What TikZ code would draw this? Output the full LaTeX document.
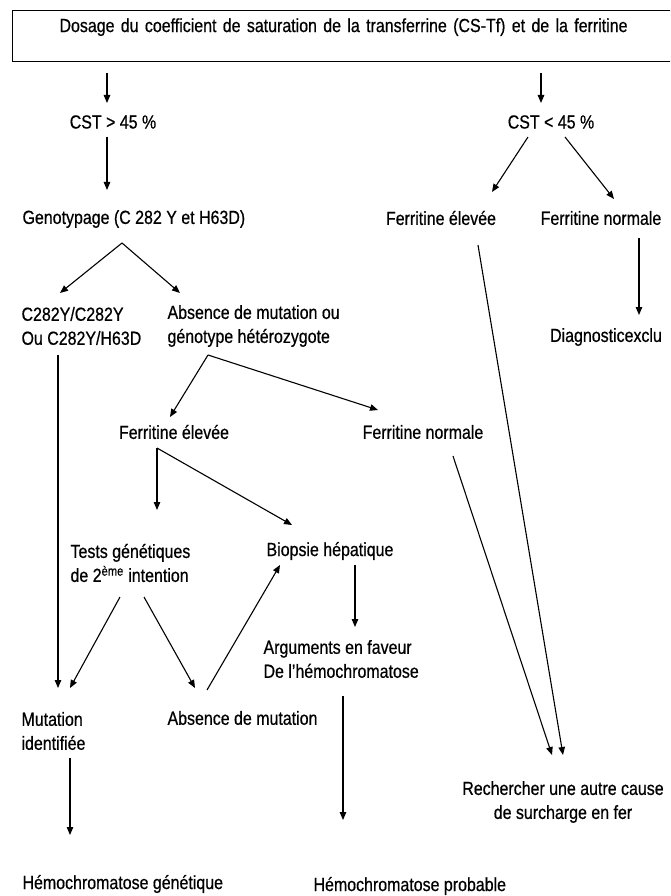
\documentclass[tikz,border=0pt]{standalone}
\usepackage{fontspec}
\setmainfont[FakeStretch=0.84,FakeBold=0.6]{Liberation Sans}
\usetikzlibrary{arrows.meta,calc}

\begin{document}
\begin{tikzpicture}[x=1pt,y=-1pt,>={Triangle[length=8pt,width=6.5pt]},line width=1.1pt,
	every node/.style={inner sep=0pt,font=\fontsize{19}{24}\selectfont}]
	\useasboundingbox (0,0) rectangle (670,896);
	\clip (0,0) rectangle (670,896);
	% top box
	\node[draw,anchor=north west,text width=662pt,align=center,
		text height=21.5pt,text depth=29.5pt] (dosage) at (12,10)
		{Dosage du coefficient de saturation de la transferrine (CS-Tf) et de la ferritine};
	\node (cstA) at (113,122) {CST > 45 \%};
	\node (cstB) at (551,122) {CST < 45 \%};
	\node[anchor=west] (geno) at (22,219) {Genotypage (C 282 Y et H63D)};
	\node (ferB1) at (441,218) {Ferritine élevée};
	\node (ferB2) at (601,218) {Ferritine normale};
	\node (diag) at (606,337) {Diagnosticexclu};
	\node[anchor=west,align=left] (homo) at (21,326) {C282Y/C282Y\\Ou C282Y/H63D};
	\node[anchor=west,align=left] (absA) at (167,326) {Absence de mutation ou\\génotype hétérozygote};
	\node (ferA1) at (174,432) {Ferritine élevée};
	\node (ferA2) at (423,432) {Ferritine normale};
	\node[anchor=west,align=left] (tests) at (70,563) {Tests génétiques\\de 2\textsuperscript{ème} intention};
	\node (biopsie) at (330,551) {Biopsie hépatique};
	\node[anchor=west,align=left] (args) at (263,659) {Arguments en faveur\\De l'hémochromatose};
	\node[anchor=west,align=left] (mutid) at (21,731) {Mutation\\identifiée};
	\node[anchor=west] (absB) at (167,718) {Absence de mutation};
	\node[align=center] (recherche) at (563,802) {Rechercher une autre cause\\de surcharge en fer};
	\node[anchor=west] (hgen) at (22,884) {Hémochromatose génétique};
	\node[anchor=west] (hprob) at (313,886) {Hémochromatose probable};
	% splits
	\coordinate (genoSplit) at ($(geno.west)+(100,24)$);
	\coordinate (absSplit) at ($(absA.west)+(41,29)$);
	\coordinate (ferSplit) at ($(ferA1)+(-17,16)$);
	% left branch
	\draw[->] ($(dosage.south -| cstA)+(-6,11)$) -- ($(cstA)+(-6,-19)$);
	\draw[->] ($(cstA)+(-6,15)$) -- ($(geno.west)+(85,-29)$);
	\draw[->] (genoSplit) -- ($(homo.west)+(39,-33)$);
	\draw[->] (genoSplit) -- ($(absA.west)+(13,-33)$);
	\draw[->] ($(homo.west)+(37,29)$) -- ($(mutid.west)+(37,-43)$);
	\draw[->] (absSplit) -- ($(ferA1)+(-4,-15)$);
	\draw[->] (absSplit) -- ($(ferA2)+(-45,-22)$);
	\draw[->] (ferSplit) -- ($(tests.west)+(87,-53)$);
	\draw[->] (ferSplit) -- ($(biopsie)+(-38,-26)$);
	\draw[->] ($(tests.west)+(50,34)$) -- ($(mutid.west)+(49,-43)$);
	\draw[->] ($(tests.west)+(74,34)$) -- ($(absB.west)+(28,-30)$);
	\draw[->] ($(absB.west)+(40,-28)$) -- ($(biopsie)+(-50,14)$);
	\draw[->] ($(biopsie)+(25,14)$) -- ($(args.west)+(92,-32)$);
	\draw[->] ($(args.west)+(80,37)$) -- ($(hprob.west)+(30,-66)$);
	\draw[->] ($(mutid.west)+(49,27)$) -- ($(hgen.west)+(48,-49)$);
	\draw[->] ($(ferA2)+(30,24)$) -- ($(recherche)+(-11,-47)$);
	% right branch
	\draw[->] ($(dosage.south -| cstB)+(-10,11)$) -- ($(cstB)+(-10,-19)$);
	\draw[->] ($(cstB)+(-23,15)$) -- ($(ferB1)+(51,-26)$);
	\draw[->] ($(cstB)+(14,15)$) -- ($(ferB2)+(13,-19)$);
	\draw[->] ($(ferB2)+(38,20)$) -- ($(diag)+(33,-22)$);
	\draw[->] ($(ferB1)+(37,27)$) -- ($(recherche)+(0,-47)$);
\end{tikzpicture}
\end{document}
